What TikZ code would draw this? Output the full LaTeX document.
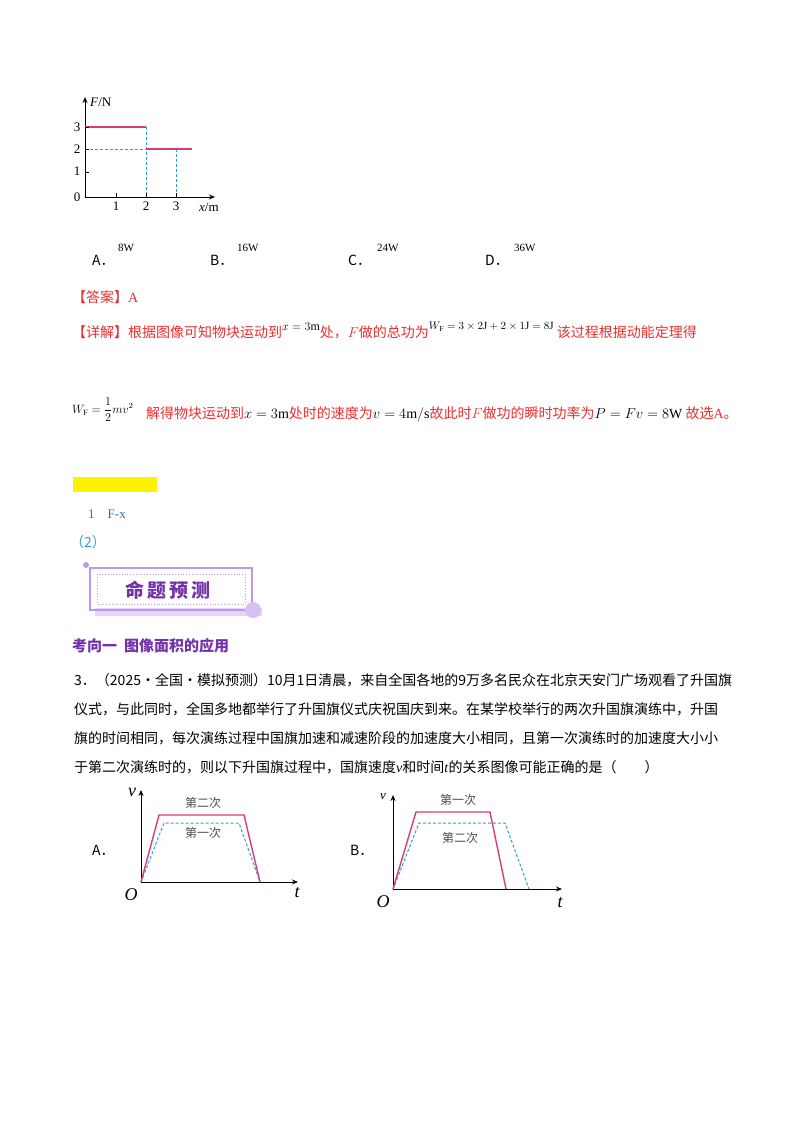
\documentclass[tikz,border=0pt]{standalone}
\usepackage{fontspec}
\setmainfont{Liberation Serif}
\newfontfamily\cjk{Noto Sans CJK SC}
\usetikzlibrary{arrows.meta}
\definecolor{rd}{RGB}{235,45,45}
\definecolor{pk}{RGB}{215,60,120}
\definecolor{bl}{RGB}{45,160,210}
\definecolor{pu}{RGB}{115,50,170}
\definecolor{lpu}{RGB}{190,150,235}
\definecolor{tb}{RGB}{40,110,190}
\begin{document}
\begin{tikzpicture}[x=1pt,y=-1pt,
  ax/.style={line width=1pt,-{Stealth[length=6pt,width=5pt]}},
  pkl/.style={pk,line width=1.4pt},
  bld/.style={bl,line width=1pt,dashed,dash pattern=on 3pt off 2pt},
  lab/.style={font=\fontsize{13}{13}\selectfont,inner sep=0pt},
  txt/.style={font=\fontsize{14}{14}\selectfont\cjk,inner sep=0pt,anchor=west},
  red/.style={txt,text=rd},
  sm/.style={font=\fontsize{11}{11}\selectfont,inner sep=0pt}]
\useasboundingbox (0,0) rectangle (800,1132);
% top graph
\coordinate (o1) at (85,197);
\draw[ax] (o1) -- (85,97) coordinate (yt1);
\draw[ax] (o1) -- (215,197) coordinate (xt1);
\draw[bld] (85,149) -- (146,149) (146,127) -- (146,197) (176,149) -- (176,197);
\draw[pkl] (85,127) -- (146,127);
\draw[pkl] (146,149) -- (192,149);
\foreach \x in {116,146,176} \draw[line width=0.8pt] (\x,197) -- (\x,193);
\foreach \y in {127,149,172} \draw[line width=0.8pt] (85,\y) -- (89,\y);
\node[lab] (l3) at (77,127) {3};
\node[lab] (l2) at (77,149) {2};
\node[lab] (l1) at (77,171) {1};
\node[lab] (l0) at (77,197) {0};
\node[lab] (t1) at (116,206) {1};
\node[lab] (t2) at (146,206) {2};
\node[lab] (t3) at (176,206) {3};
\node[lab,anchor=west] (fn) at (90,102) {\textit{F}/N};
\node[lab,anchor=west] (xm) at (199,207) {\textit{x}/m};
% options
\node[txt] (oa) at (92,260) {A．}; \node[sm,anchor=west] (va) at (118,248) {8W};
\node[txt] (ob) at (210,260) {B．}; \node[sm,anchor=west] (vb) at (237,248) {16W};
\node[txt] (oc) at (348,260) {C．}; \node[sm,anchor=west] (vc) at (377,248) {24W};
\node[txt] (od) at (485,260) {D．}; \node[sm,anchor=west] (vd) at (514,248) {36W};
% answer
\node[red] (ans) at (72,297) {【答案】\textrm{A}};
\node[red] (d1) at (72,331) {【详解】根据图像可知物块运动到\raisebox{7pt}{\fontsize{12}{12}\selectfont\color{black}$x=3\mathrm{m}$}处，$F$做的总功为\raisebox{8pt}{\fontsize{11}{11}\selectfont\color{black}$W_{\mathrm F}=3\times2\mathrm J+2\times1\mathrm J=8\mathrm J$}\ 该过程根据动能定理得};
\node[red] (d2) at (72,410) {\textcolor{black}{\raisebox{5pt}{\fontsize{12}{12}\selectfont$W_{\mathrm F}=\displaystyle\frac12 mv^2$}}\ \ \ \ 解得物块运动到\textcolor{black}{$x=3\mathrm m$}处时的速度为\textcolor{black}{$v=4\mathrm{m/s}$}故此时$F$做功的瞬时功率为\textcolor{black}{$P=Fv=8\mathrm W$}\ 故选\textrm{A}。};
% yellow bar and items
\fill[yellow] (73,477) rectangle (157,492);
\node[txt,text=tb,font=\fontsize{13}{13}\selectfont] (i1) at (88,514) {1\quad F-x};
\node[txt,text=bl] (i2) at (70,542) {（2）};
% banner
\fill[lpu!40] (95,608) rectangle (262,616);
\draw[lpu,line width=1.5pt] (90,568) rectangle (252,610);
\draw[lpu,dotted,line width=0.8pt] (97,574) rectangle (245,604);
\fill[lpu!60] (253,610) circle (8);
\fill[lpu] (86,565) circle (3);
\node[txt,anchor=center,text=pu,font=\fontsize{19}{19}\selectfont\cjk\bfseries] (ban) at (168,590) {命\,题\,预\,测};
\node[txt,text=pu,font=\fontsize{15}{15}\selectfont\cjk\bfseries] (h1) at (72,646) {考向一\ \ 图像面积的应用};
% question
\node[txt] (q1) at (74,680) {3．（2025·全国·模拟预测）10月1日清晨，来自全国各地的9万多名民众在北京天安门广场观看了升国旗};
\node[txt] (q2) at (74,709) {仪式，与此同时，全国多地都举行了升国旗仪式庆祝国庆到来。在某学校举行的两次升国旗演练中，升国};
\node[txt] (q3) at (74,738) {旗的时间相同，每次演练过程中国旗加速和减速阶段的加速度大小相同，且第一次演练时的加速度大小小};
\node[txt] (q4) at (74,767) {于第二次演练时的，则以下升国旗过程中，国旗速度\textrm{\textit{v}}和时间\textrm{\textit{t}}的关系图像可能正确的是（\qquad）};
% graph A
\coordinate (oA) at (141,882);
\draw[ax] (oA) -- (141,790);
\draw[ax] (oA) -- (298,882);
\draw[bld] (oA) -- (164,823) -- (239,823) -- (260,882);
\draw[pkl] (oA) -- (159,815) -- (244,815) -- (260,882);
\node[txt,font=\fontsize{12}{12}\selectfont\cjk,text=black!70,anchor=center] (a2) at (203,803) {第二次};
\node[txt,font=\fontsize{12}{12}\selectfont\cjk,text=black!70,anchor=center] (a1) at (203,833) {第一次};
\node[txt] (la) at (92,850) {A．};
\node[lab,font=\fontsize{18}{18}\selectfont\itshape] (OA) at (131,895) {O};
\node[lab,font=\fontsize{18}{18}\selectfont\itshape] (tA) at (297,893) {t};
\node[lab,font=\fontsize{18}{18}\selectfont\itshape] (vA) at (132,792) {v};
% graph B
\coordinate (oB) at (393,889);
\draw[ax] (oB) -- (393,795);
\draw[ax] (oB) -- (562,889);
\draw[bld] (oB) -- (419,823) -- (505,823) -- (529,889);
\draw[pkl] (oB) -- (416,812) -- (490,812) -- (506,889);
\node[txt,font=\fontsize{12}{12}\selectfont\cjk,text=black!70,anchor=center] (b1) at (458,800) {第一次};
\node[txt,font=\fontsize{12}{12}\selectfont\cjk,text=black!70,anchor=center] (b2) at (460,838) {第二次};
\node[txt] (lb) at (350,850) {B．};
\node[lab,font=\fontsize{18}{18}\selectfont\itshape] (OB) at (383,902) {O};
\node[lab,font=\fontsize{18}{18}\selectfont\itshape] (tB) at (560,903) {t};
\node[lab,font=\fontsize{13}{13}\selectfont\itshape] (vB) at (383,797) {v};
\end{tikzpicture}
\end{document}
